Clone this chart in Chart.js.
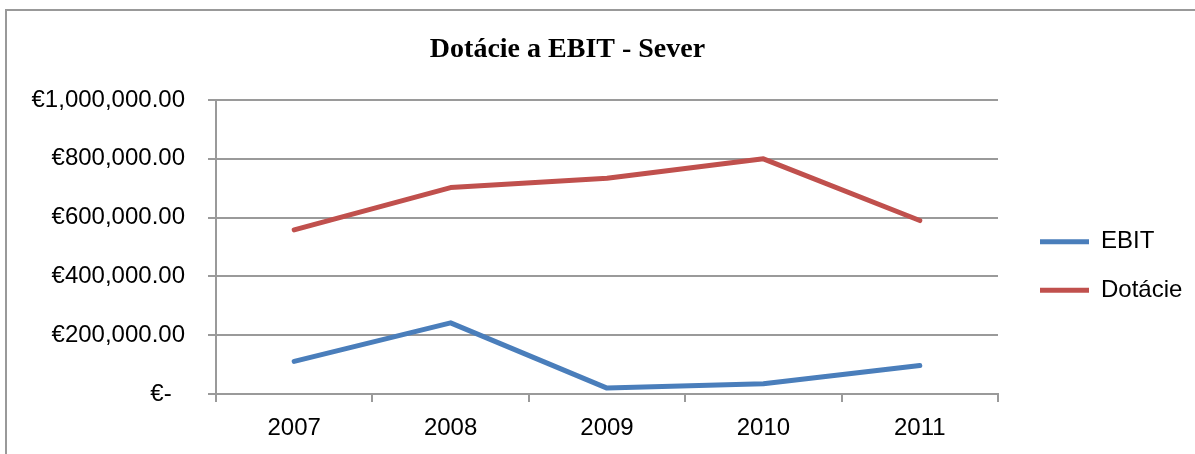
<!DOCTYPE html>
<html>
<head>
<meta charset="utf-8">
<script src="https://cdn.jsdelivr.net/npm/chart.js@4/dist/chart.umd.min.js"></script>
<style>
  body { margin: 0; background: #fff; }
</style>
</head>
<body>
<canvas id="dotacieChart" width="1195" height="454"></canvas>
<script>
// Data
const years = ['2007', '2008', '2009', '2010', '2011'];
const ebit = [111000, 242000, 20000, 35000, 97000];
const dotacie = [558000, 702000, 734000, 800000, 590000];
const yTicks = [0, 200000, 400000, 600000, 800000, 1000000];

const gridGray = '#9a9a9a';
const sansFont = "'Liberation Sans', Arial, sans-serif";
const fontSize = 24;

// euro accounting style labels, zero shown as a dash
function euro(v) {
  if (v === 0) return '€-  ';
  return '€' + v.toLocaleString('en-US', { minimumFractionDigits: 2, maximumFractionDigits: 2 });
}

// white background + the chart's outer frame (top and left edge only visible)
const framePlugin = {
  id: 'frame',
  beforeDraw(chart) {
    const c = chart.ctx;
    c.save();
    c.fillStyle = '#fff';
    c.fillRect(0, 0, chart.width, chart.height);
    c.strokeStyle = '#999';
    c.lineWidth = 2;
    c.beginPath();
    c.moveTo(6, chart.height);
    c.lineTo(6, 10);
    c.lineTo(chart.width, 10);
    c.stroke();
    c.restore();
  }
};

Chart.defaults.color = '#000';
Chart.defaults.font.family = sansFont;
Chart.defaults.font.size = fontSize;

const ctx = document.getElementById('dotacieChart').getContext('2d');

// legend geometry: work out its width so the plot ends at ~998 and the title centres at ~567
const legendPad = 24.5;
const legendLine = 49;
ctx.font = fontSize + 'px ' + sansFont;
const longest = Math.max(ctx.measureText('EBIT').width, ctx.measureText('Dotácie').width);
const legendWidth = legendPad + legendLine + fontSize / 2 + longest + 10;
const legendLeft = 1040 - legendPad;
const padRight = 1195 - legendLeft - legendWidth;
const padLeft = padRight - 60;

new Chart(ctx, {
  type: 'line',
  data: {
    labels: years,
    datasets: [
      {
        label: 'EBIT',
        data: ebit,
        borderColor: '#4a7ebb',
        backgroundColor: '#4a7ebb',
        borderWidth: 5,
        borderCapStyle: 'round',
        borderJoinStyle: 'round',
        pointRadius: 0,
        tension: 0,
      },
      {
        label: 'Dotácie',
        data: dotacie,
        borderColor: '#c0504d',
        backgroundColor: '#c0504d',
        borderWidth: 5,
        borderCapStyle: 'round',
        borderJoinStyle: 'round',
        pointRadius: 0,
        tension: 0,
      },
    ],
  },
  options: {
    responsive: false,
    animation: false,
    layout: { padding: { top: 0, left: padLeft, right: padRight, bottom: 0 } },
    plugins: {
      title: {
        display: true,
        text: 'Dotácie a EBIT - Sever',
        font: { family: "'Liberation Serif', 'Times New Roman', serif", size: 28, weight: 'bold' },
        color: '#000',
        padding: { top: 33, bottom: 33.4 },
      },
      legend: {
        position: 'right',
        fullSize: false,
        title: { display: true, text: '', font: { size: 10 }, padding: 13 },
        labels: {
          usePointStyle: true,
          pointStyle: 'line',
          pointStyleWidth: legendLine,
          padding: legendPad,
          font: { size: fontSize },
        },
      },
      tooltip: { enabled: false },
    },
    scales: {
      x: {
        offset: true,
        grid: {
          offset: true,
          drawOnChartArea: false,
          drawTicks: true,
          tickLength: 8,
          color: gridGray,
          lineWidth: 2,
        },
        border: { color: gridGray, width: 2 },
        ticks: { padding: 11.6 },
        afterFit(s) { s.height = 60; },
      },
      y: {
        min: 0,
        max: 1000000,
        afterBuildTicks(s) { s.ticks = yTicks.map(v => ({ value: v })); },
        grid: { color: gridGray, lineWidth: 2, tickLength: 8 },
        border: { color: gridGray, width: 2 },
        ticks: { padding: 23, callback: v => euro(v) },
        afterFit(s) { s.width = 216 - padLeft; },
      },
      // empty spacer between the plot and the legend
      gap: {
        position: 'right',
        display: true,
        grid: { display: false },
        border: { display: false },
        ticks: { display: false },
        afterFit(s) { s.width = legendLeft - 998; },
      },
    },
  },
  plugins: [framePlugin],
});
</script>
</body>
</html>
